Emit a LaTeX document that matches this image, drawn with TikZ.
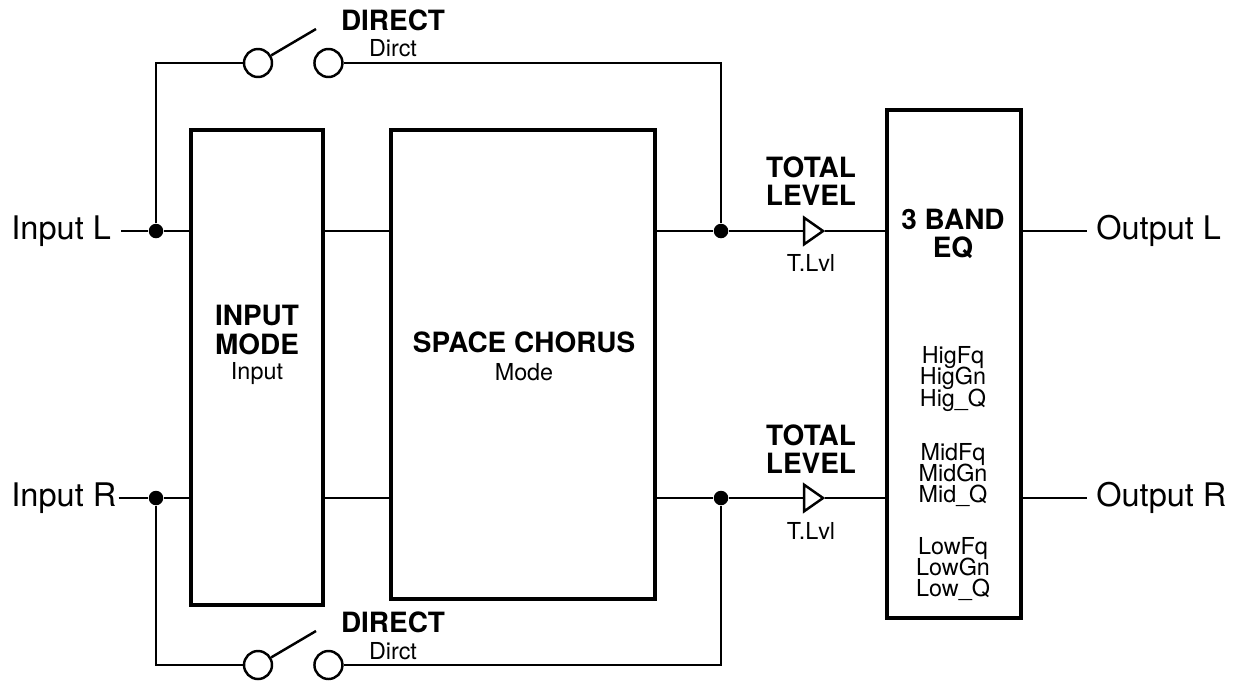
\documentclass[tikz,border=0pt]{standalone}
\usepackage{fontspec}
\setmainfont{TeX Gyre Heros}
\usetikzlibrary{positioning, shapes.geometric}
\tikzset{
  % Heavy outlined block
  block/.style={
    rectangle, draw=black, line width=2.7pt, fill=white,
    minimum width=#1, inner sep=0pt
  },
  % Signal wire
  wire/.style={line width=1.4pt, color=black},
  % Junction dot
  junction/.style={
    circle, fill=black, draw=none, minimum size=0.29cm, inner sep=0pt
  },
  % Switch contact
  contact/.style={
    circle, fill=white, draw=black, line width=1.4pt,
    minimum size=0.56cm, inner sep=0pt
  },
  % Level amplifier
  amp/.style={
    isosceles triangle, isosceles triangle apex angle=70,
    shape border rotate=0, fill=white, draw=black, line width=1.4pt,
    minimum height=0.38cm, inner sep=0pt
  },
  % Text styles
  iolabel/.style={font=\fontsize{18.5}{20}\selectfont, inner sep=0.1cm},
  boldlabel/.style={font=\fontsize{15.9}{16}\selectfont\bfseries, align=center, inner sep=0pt},
  paramlabel/.style={font=\fontsize{13.3}{12.2}\selectfont\lineskiplimit -6pt\relax, align=center, inner sep=0pt}
}
\begin{document}
\begin{tikzpicture}[x=0.02cm, y=-0.02cm]
  \useasboundingbox (0,0) rectangle (1243,681);

  % Main blocks
  \node[block=2.64cm, minimum height=9.5cm] (inmode) at (257,367.5) {};
  \node[block=5.28cm, minimum height=9.38cm] (chorus) at (523,364.5) {};
  \node[block=2.68cm, minimum height=10.16cm] (eq) at (954,364) {};

  % Inputs and outputs
  \node[iolabel, anchor=west, inner sep=0pt] (inL_txt) at (11,231) {Input L};
  \node[iolabel, anchor=west, inner sep=0pt] (inR_txt) at (11,498) {Input R};
  \node[iolabel, anchor=west, inner sep=0pt] (outL_txt) at (1096,231) {Output L};
  \node[iolabel, anchor=west, inner sep=0pt] (outR_txt) at (1096,498) {Output R};

  % Junctions
  \node[junction] (jInL) at (156,231) {};
  \node[junction] (jInR) at (156,498) {};
  \node[junction] (jOutL) at (721,231) {};
  \node[junction] (jOutR) at (721,498) {};

  % Direct switches
  \node[contact] (swLa) at (258,63) {};
  \node[contact, right=0.8cm of swLa] (swLb) {};
  \node[contact] (swRa) at (258,665) {};
  \node[contact, right=0.8cm of swRa] (swRb) {};
  \coordinate (armL) at (316,29);
  \coordinate (armR) at (316,631);

  % Level amps
  \node[amp] (ampL) at (811,231) {};
  \node[amp] (ampR) at (811,498) {};

  % Wires: left side
  \draw[wire] ([xshift=0.2cm]inL_txt.east) -- (jInL) -- (jInL -| inmode.west);
  \draw[wire] ([xshift=0.04cm]inR_txt.east) -- (jInR) -- (jInR -| inmode.west);
  \draw[wire] (jInL -| inmode.east) -- (jInL -| chorus.west);
  \draw[wire] (jInR -| inmode.east) -- (jInR -| chorus.west);

  % Wires: direct paths
  \draw[wire] (jInL) |- (swLa.west);
  \draw[wire] (swLb.east) -| (jOutL);
  \draw[wire] (jInR) |- (swRa.west);
  \draw[wire] (swRb.east) -| (jOutR);
  \draw[wire] (swLa.30) -- (armL);
  \draw[wire] (swRa.30) -- (armR);

  % Wires: right side
  \draw[wire] (jOutL -| chorus.east) -- (jOutL) -- (jOutL -| ampL.west);
  \draw[wire] (jOutR -| chorus.east) -- (jOutR) -- (jOutR -| ampR.west);
  \draw[wire] (jOutL -| ampL.east) -- (jOutL -| eq.west);
  \draw[wire] (jOutR -| ampR.east) -- (jOutR -| eq.west);
  \draw[wire] (jOutL -| eq.east) -- ([xshift=-0.18cm]outL_txt.west |- jOutL);
  \draw[wire] (jOutR -| eq.east) -- ([xshift=-0.18cm]outR_txt.west |- jOutR);

  % Block labels
  \node[boldlabel] (inmode_txt) at (257,330) {INPUT\\MODE};
  \node[paramlabel, below=0.14cm of inmode_txt] (inmode_par) {Input};
  \node[boldlabel] (chorus_txt) at (524,342) {SPACE CHORUS};
  \node[paramlabel] (chorus_par) at (524,372) {Mode};
  \node[boldlabel] (eq_txt) at (953,234) {3 BAND\\EQ};
  \node[paramlabel] (eq_hig) at (953,379) {HigFq\\HigGn\\Hig\_Q};
  \node[paramlabel] (eq_mid) at (953,475) {MidFq\\MidGn\\Mid\_Q};
  \node[paramlabel] (eq_low) at (953,569) {LowFq\\LowGn\\Low\_Q};

  % Switch labels
  \node[boldlabel] (dirL_txt) at (393,20) {DIRECT};
  \node[paramlabel] (dirL_par) at (393,48) {Dirct};
  \node[boldlabel] (dirR_txt) at (393,622) {DIRECT};
  \node[paramlabel] (dirR_par) at (393,651) {Dirct};

  % Level labels
  \node[boldlabel] (lvlL_txt) at (811,181) {TOTAL\\LEVEL};
  \node[paramlabel] (lvlL_par) at (811,263) {T.Lvl};
  \node[boldlabel] (lvlR_txt) at (811,449) {TOTAL\\LEVEL};
  \node[paramlabel] (lvlR_par) at (811,531) {T.Lvl};

\end{tikzpicture}
\end{document}
